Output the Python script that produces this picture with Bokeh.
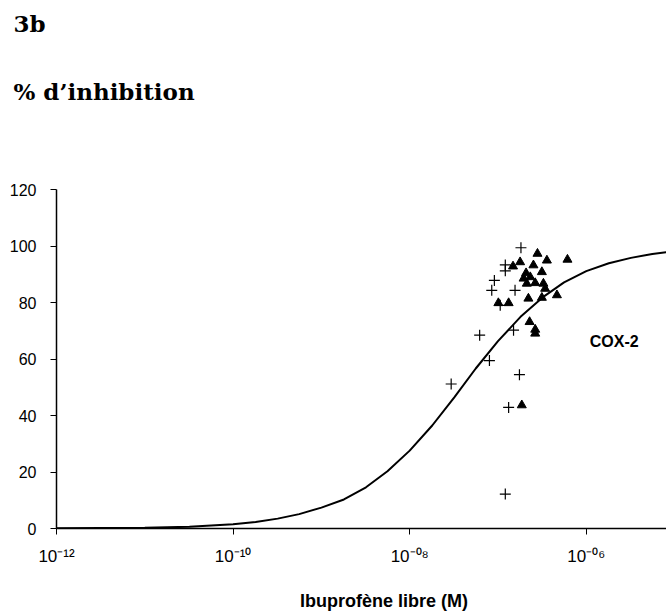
from bokeh.plotting import figure
from bokeh.models import Range1d, FixedTicker, Label, Title
from bokeh.embed import file_html
from bokeh.resources import INLINE

# Fitted COX-2 inhibition curve
curve_conc = [1e-12, 1e-11, 3.2e-11, 1e-10, 1.8e-10, 3.2e-10, 5.6e-10, 1e-9, 1.8e-9,
              3.2e-9, 5.6e-9, 1e-8, 1.8e-8, 3.2e-8, 5.6e-8, 1e-7, 1.8e-7, 3.2e-7,
              5.6e-7, 1e-6, 1.8e-6, 3.2e-6, 5.6e-6, 8.1e-6]
curve_pct = [0.05, 0.3, 0.65, 1.5, 2.3, 3.5, 5.1, 7.4, 10.3, 14.6, 20.3, 27.6, 36.5,
             46.5, 56.7, 66.4, 75.0, 81.9, 87.2, 91.2, 94.0, 95.9, 97.3, 97.9]

# Series 1: crosses
cross_conc = [1.82e-7, 1.21e-7, 1.21e-7, 9.1e-8, 8.5e-8, 1.56e-7, 1.06e-7, 1.50e-7,
              6.2e-8, 8.0e-8, 2.95e-8, 1.75e-7, 1.32e-7, 1.21e-7]
cross_pct = [99.5, 93.4, 91.3, 87.9, 84.4, 84.4, 79.1, 70.3, 68.5, 59.5, 51.2, 54.5,
             42.9, 12.2]

# Series 2: triangles
tri_conc = [1.78e-7, 2.80e-7, 3.58e-7, 6.12e-7, 1.48e-7, 2.52e-7, 2.08e-7, 3.14e-7,
            1.95e-7, 2.32e-7, 2.64e-7, 2.12e-7, 3.27e-7, 3.42e-7, 4.65e-7, 2.21e-7,
            3.14e-7, 1.01e-7, 1.32e-7, 2.28e-7, 2.64e-7, 2.64e-7, 1.86e-7]
tri_pct = [94.4, 97.4, 95.0, 95.3, 92.9, 93.3, 90.5, 90.9, 88.6, 89.1, 87.0, 86.8,
           86.8, 85.0, 82.7, 81.5, 81.8, 79.9, 79.9, 73.2, 70.5, 69.1, 43.7]

x_ticks = [1e-12, 1e-10, 1e-8, 1e-6]
x_tick_labels = ["10⁻¹²", "10⁻¹⁰", "10⁻⁰⁸", "10⁻⁰⁶"]
y_ticks = [0, 20, 40, 60, 80, 100, 120]

W, H = 666, 613
p = figure(width=W, height=H, x_axis_type="log",
           x_range=Range1d(1e-12, 8.1e-6), y_range=Range1d(0, 137.5),
           output_backend="svg", toolbar_location=None,
           min_border_left=56, min_border_right=0, min_border_top=140,
           min_border_bottom=85)
p.outline_line_color = None
p.grid.visible = False

for ax in (p.xaxis[0], p.yaxis[0]):
    ax.axis_line_color = "black"
    ax.axis_line_width = 1.5
    ax.major_tick_line_color = "black"
    ax.major_tick_out = 6
    ax.major_tick_in = 0
    ax.minor_tick_out = 0
    ax.minor_tick_in = 0
    ax.major_label_text_color = "black"
    ax.major_label_text_font = "Liberation Sans"

p.xaxis.ticker = FixedTicker(ticks=x_ticks)
p.xaxis.major_label_overrides = {t: l for t, l in zip(x_ticks, x_tick_labels)}
p.xaxis.major_label_text_font_size = "17px"
p.xaxis.major_label_standoff = 12
p.xaxis.axis_label = "\u00a0" * 9 + "Ibuprofène libre (M)"
p.xaxis.axis_label_text_font = "Liberation Sans"
p.xaxis.axis_label_text_font_style = "bold"
p.xaxis.axis_label_text_font_size = "18px"
p.xaxis.axis_label_text_color = "black"
p.xaxis.axis_label_standoff = 22

p.yaxis.ticker = FixedTicker(ticks=y_ticks)
p.yaxis.bounds = (0, 120)
p.yaxis.major_label_text_font_size = "16px"
p.yaxis.major_label_standoff = 14

p.line(curve_conc, curve_pct, line_color="black", line_width=2)
p.scatter(cross_conc, cross_pct, marker="cross", size=11, line_color="black",
          line_width=1.2)
p.scatter(tri_conc, tri_pct, marker="triangle", size=9, fill_color="black",
          line_color="black")

p.add_layout(Label(x=2.07e-6, y=66.4, text="COX-2", text_align="center",
                   text_baseline="middle", text_font="Liberation Sans",
                   text_font_style="bold", text_font_size="16px", text_color="black"))

# titles: first "above" title sits nearest the frame
p.add_layout(Title(text="% d’inhibition", align="left", offset=-43, standoff=71,
                   text_font="DejaVu Serif", text_font_style="bold",
                   text_font_size="23px", text_color="black"), "above")
p.add_layout(Title(text="3b", align="left", offset=-43, standoff=7,
                   text_font="DejaVu Serif", text_font_style="bold",
                   text_font_size="23px", text_color="black"), "above")

open("out.html", "w").write(file_html(p, INLINE))
